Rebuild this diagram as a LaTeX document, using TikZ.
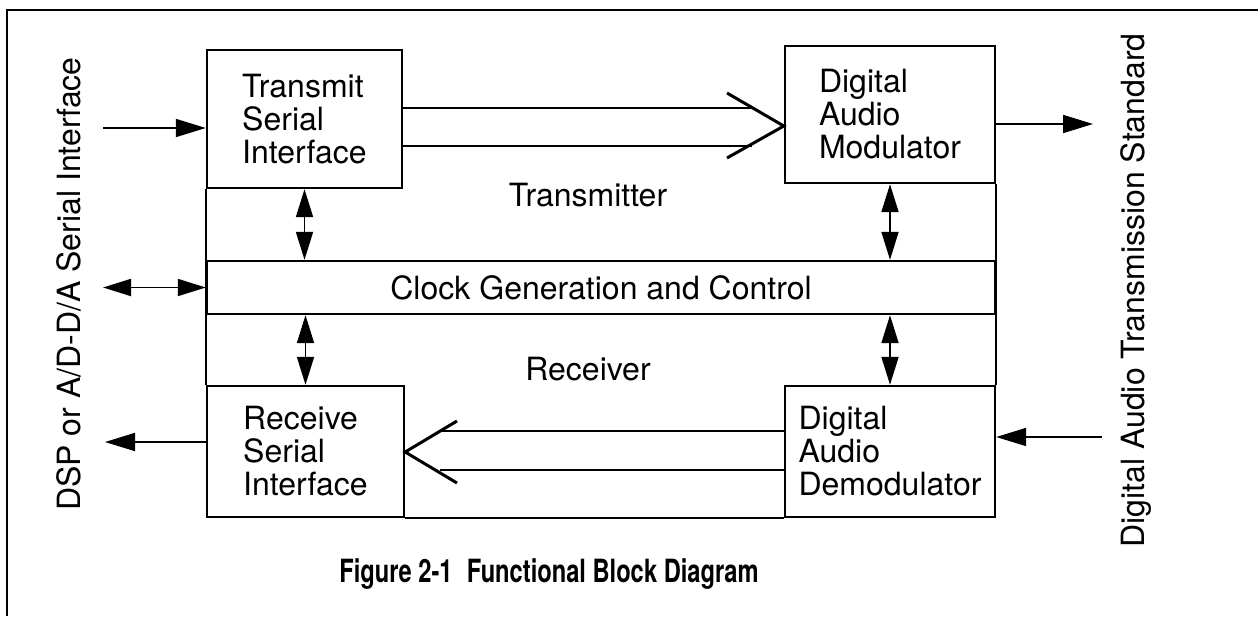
\documentclass[tikz,border=0pt]{standalone}
\usepackage{fontspec}
\setmainfont{TeX Gyre Heros}
\usetikzlibrary{arrows.meta,calc}

\begin{document}
\begin{tikzpicture}[x=0.5pt,y=-0.5pt,
    every node/.style={font={\fontsize{16}{16.5}\selectfont}},
    blk/.style={draw,line width=1.2pt,align=left,inner sep=0pt},
    sig/.style={line width=0.9pt,-{Triangle[length=15pt,width=9pt]}},
    dblsig/.style={line width=0.9pt,{Triangle[length=14pt,width=8.5pt]}-{Triangle[length=14pt,width=8.5pt]}},
    bus/.style={line width=1.1pt},
    chev/.style={line width=1.5pt,line join=miter}]
        \useasboundingbox (0,0) rectangle (1258,616);
        \draw[line width=1pt] (7,616) -- (7,10) -- (1258,10);

        % blocks
        \node[blk,minimum width=97.5pt,minimum height=69pt] (tsi) at (304.5,119) {Transmit\\Serial\\Interface};
        \node[blk,minimum width=105pt,minimum height=68.5pt] (dam) at (890,114.5) {Digital\\Audio\\Modulator};
        \node[blk,minimum width=394pt,minimum height=26.5pt,align=center] (clk) at (601,287.5) {Clock Generation and Control};
        \node[blk,minimum width=98.5pt,minimum height=65.5pt] (rsi) at (305.5,451.5) {Receive\\Serial\\Interface};
        \node[blk,minimum width=105pt,minimum height=65.5pt] (dad) at (890,451.5) {Digital\\Audio\\Demodulator};
        \draw[line width=1.2pt] (tsi.south west) -- (rsi.north west);
        \draw[line width=1.2pt] (dam.south east) -- (dad.north east);
        \draw[line width=1.2pt] (rsi.south east) -- (dad.south west);

        \node[anchor=base] (tx) at (588,206) {Transmitter};
        \node[anchor=base] (rx) at (588,380) {Receiver};

        % transmit bus
        \coordinate (txa) at (752,108);
        \coordinate (txb) at (752,146);
        \draw[bus] (tsi.east |- txa) -- (txa);
        \draw[bus] (tsi.east |- txb) -- (txb);
        \draw[chev] (727,93) -- (dam.west |- 0,126) -- (727,158);

        % receive bus
        \coordinate (rxa) at (440,431);
        \coordinate (rxb) at (440,470);
        \draw[bus] (dad.west |- rxa) -- (rxa);
        \draw[bus] (dad.west |- rxb) -- (rxb);
        \draw[chev] (457,421) -- (rsi.east |- 0,452) -- (457,483);

        % control paths
        \draw[dblsig] (tsi.south) -- (tsi.south |- clk.north);
        \draw[dblsig] (dam.south) -- (dam.south |- clk.north);
        \draw[dblsig] (rsi.north) -- (rsi.north |- clk.south);
        \draw[dblsig] (dad.north) -- (dad.north |- clk.south);

        % outside signals
        \coordinate (dspin) at (103,128);
        \coordinate (dspio) at (103,287.5);
        \coordinate (dspout) at (105,442);
        \coordinate (daout) at (1093,124);
        \coordinate (dain) at (1102,437);
        \draw[sig] (dspin) -- (dspin -| tsi.west);
        \draw[dblsig] (dspio) -- (clk.west);
        \draw[sig] (rsi.west |- dspout) -- (dspout);
        \draw[sig] (dam.east |- daout) -- (daout);
        \draw[sig] (dain) -- (dain -| dad.east);

        \node[rotate=90,anchor=base] (dsp) at (80,284) {DSP or A/D-D/A Serial Interface};
        \node[rotate=90,anchor=base] (aes) at (1144,290.5) {Digital Audio Transmission Standard};

        \node[anchor=base,xscale=0.74,font={\fontsize{16}{18}\selectfont\bfseries}] (cap) at (549,582) {Figure 2-1\hspace{0.6em}Functional Block Diagram};
\end{tikzpicture}
\end{document}
